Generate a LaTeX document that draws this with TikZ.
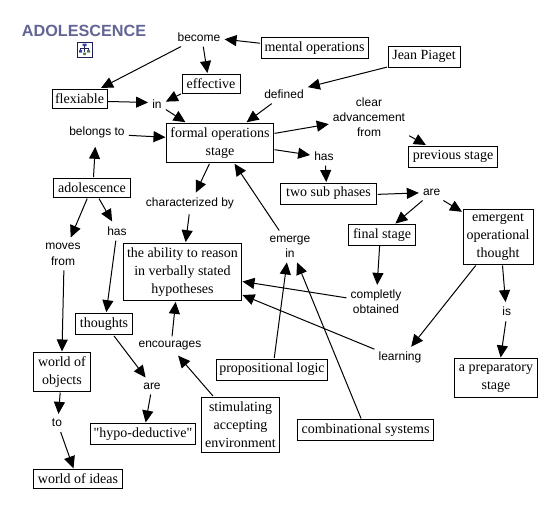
\documentclass[tikz,border=0pt]{standalone}
\usepackage{xcolor}
\usepackage{fontspec}
\setmainfont{Liberation Serif}
\setsansfont{Liberation Sans}
\newfontfamily\quotefont{Liberation Serif}
\usepackage{tikz}
\usetikzlibrary{arrows.meta}
\definecolor{mytitle}{RGB}{98,100,150}
\definecolor{mynavy}{RGB}{30,30,90}
\definecolor{myblue}{RGB}{50,70,170}
\definecolor{mygreen}{RGB}{90,130,70}
\tikzset{
  box/.style={rectangle, draw=black, fill=white, align=center, inner sep=1pt,
    font=\fontsize{14}{18}\selectfont, line width=0.8pt, outer sep=1pt},
  link/.style={rectangle, align=center, inner xsep=4pt, inner ysep=5pt,
    font=\sffamily\fontsize{12}{15}\selectfont},
  arrow/.style={-{Triangle[length=12pt, width=11pt]}, line width=1pt, color=black}
}
\begin{document}
\begin{tikzpicture}[x=1pt, y=-1pt]
  \useasboundingbox (0,0) rectangle (558,509);

  % Title
  \node[font=\sffamily\bfseries\fontsize{16.2}{18}\selectfont, text=mytitle, inner sep=0pt] (title) at (84,31) {ADOLESCENCE};
  \node[rectangle, draw=mynavy, fill=white, minimum size=15pt, inner sep=0pt, line width=0.8pt] (icon) at (84.5,49.5) {};
  \draw[mynavy, line width=0.6pt] (84.5,46) -- (84.5,52) (80.5,48) -- (88.5,48) (80.5,48) -- (80.5,50) (88.5,48) -- (88.5,50);
  \fill[myblue] (82.5,43.5) rectangle (86.5,46) (79,50) rectangle (82,52.5);
  \fill[mygreen] (87,50) rectangle (90,52.5) (83,52.5) rectangle (86,55);

  % Concepts
  \node[box, minimum width=107pt, minimum height=21pt] (mental) at (314.5,48) {mental operations};
  \node[box, minimum width=72pt, minimum height=21pt] (jp) at (424,56.5) {Jean Piaget};
  \node[box, minimum width=58pt, minimum height=19pt] (eff) at (211,83.5) {effective};
  \node[box, minimum width=55pt, minimum height=19pt] (flex) at (79.5,98.5) {flexiable};
  \node[box, minimum width=107pt, minimum height=39.5pt] (fos) at (220,143) {formal operations\\stage};
  \node[box, minimum width=89.5pt, minimum height=21pt] (prev) at (453,156.5) {previous stage};
  \node[box, minimum width=96.5pt, minimum height=21pt] (two) at (328.5,193.5) {two sub phases};
  \node[box, minimum width=66.5pt, minimum height=20.5pt] (final) at (382,234.8) {final stage};
  \node[box, minimum width=70pt, minimum height=55pt] (emt) at (498,237) {emergent\\operational\\thought};
  \node[box, minimum width=76.5pt, minimum height=19.5pt] (adol) at (92,187.8) {adolescence};
  \node[box, minimum width=118pt, minimum height=57.7pt] (ability) at (182.5,272) {the ability to reason\\in verbally stated\\hypotheses};
  \node[box, minimum width=57pt, minimum height=21.7pt] (thoughts) at (104,324) {thoughts};
  \node[box, minimum width=57pt, minimum height=39pt] (wobj) at (62,372) {world of\\objects};
  \node[box, minimum width=105pt, minimum height=21pt, font=\quotefont\fontsize{14}{18}\selectfont] (hypo) at (143,434) {"hypo-deductive"};
  \node[box, minimum width=89pt, minimum height=19.2pt] (wide) at (78,479) {world of ideas};
  \node[box, minimum width=78pt, minimum height=55pt] (stim) at (240.5,424.5) {stimulating\\accepting\\environment};
  \node[box, minimum width=111pt, minimum height=21pt] (prop) at (272,369.5) {propositional logic};
  \node[box, minimum width=136.5pt, minimum height=21pt] (comb) at (365.5,430) {combinational systems};
  \node[box, minimum width=83.4pt, minimum height=38.5pt] (prep) at (496,377.7) {a preparatory\\stage};

  % Linking phrases
  \node[link] (become) at (199,37) {become};
  \node[link] (in) at (157,104) {in};
  \node[link] (defd) at (284,94) {defined};
  \node[link] (belongs) at (97,132) {belongs to};
  \node[link] (clear) at (369,117) {clear\\advancement\\from};
  \node[link] (hasa) at (324,156) {has};
  \node[link] (area) at (431.7,192) {are};
  \node[link] (char) at (190,203.5) {characterized by};
  \node[link, font=\sffamily\fontsize{12}{16}\selectfont] (moves) at (63,254) {moves\\from};
  \node[link] (hasb) at (117,231) {has};
  \node[link] (emerge) at (290,246.5) {emerge\\in};
  \node[link] (enc) at (170,346) {encourages};
  \node[link] (to) at (57,423) {to};
  \node[link] (areb) at (152,386) {are};
  \node[link] (comp) at (376,302) {completly\\obtained};
  \node[link] (learn) at (400,357.5) {learning};
  \node[link] (isa) at (506.7,311.7) {is};

  % Top paths
  \draw[arrow] (become.208) -- (flex.26);
  \draw[arrow] (become.294) -- (eff.109);
  \draw[arrow] (mental.175) -- (become.-5);
  \draw[arrow] (jp.196) -- (defd.16);
  \draw[arrow] (defd.218) -- (fos.38);
  \draw[arrow] (eff.199) -- (in.15);
  \draw[arrow] (flex.-6) -- (in.170);
  \draw[arrow] (in.-32) -- (fos.149);
  \draw[arrow] (belongs.-6) -- (fos.174);
  \draw[arrow, shorten >=4pt] (adol.82) -- (belongs.262);

  % Right paths
  \draw[arrow] (fos.10) -- (clear.190);
  \draw[arrow] (fos.-7) -- (hasa.176);
  \draw[arrow] (hasa.279) -- (two.101);
  \draw[arrow] (clear.-25) -- (prev.157);
  \draw[arrow] (two.-1) -- (area.184);
  \draw[arrow] (area.223) -- (final.40);
  \draw[arrow] (area.-36) -- (emt.145);
  \draw[arrow] (final.258) -- (comp.86);
  \draw[arrow] (emt.232) -- (learn.44);
  \draw[arrow] (emt.-81) -- (isa.97);
  \draw[arrow] (isa.265) -- (prep.77);

  % Left paths
  \draw[arrow] (fos.243) -- (char.62);
  \draw[arrow] (char.266) -- (ability.84);
  \draw[arrow] (adol.246) -- (moves.65);
  \draw[arrow] (adol.-57) -- (hasb.117);
  \draw[arrow] (hasb.263) -- (thoughts.79);
  \draw[arrow] (moves.273) -- (wobj.90);
  \draw[arrow] (wobj.265) -- (to.81);
  \draw[arrow] (to.-68) -- (wide.113);
  \draw[arrow] (thoughts.-50) -- (areb.127);
  \draw[arrow] (areb.261) -- (hypo.77);

  % Paths into the centre
  \draw[arrow] (enc.78) -- (ability.257);
  \draw[arrow] (stim.134) -- (enc.-50);
  \draw[arrow] (prop.79) -- (emerge.259);
  \draw[arrow] (comb.111) -- (emerge.-66);
  \draw[arrow] (emerge.124) -- (fos.-55);
  \draw[arrow] (comp.172) -- (ability.-9);
  \draw[arrow] (learn.162) -- (ability.-21);
\end{tikzpicture}
\end{document}
